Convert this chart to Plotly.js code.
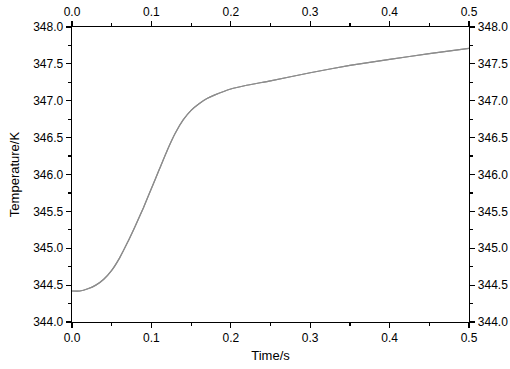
<!DOCTYPE html>
<html>
<head>
<meta charset="utf-8">
<script src="https://cdn.plot.ly/plotly-3.0.1.min.js"></script>
<style>
  html, body { margin: 0; padding: 0; background: #fff; }
  #tempChart { width: 510px; height: 369px; }
</style>
</head>
<body>
<div id="tempChart"></div>
<script>
// time (s) and temperature (K)
const timeValues = [0, 0.01, 0.02, 0.03, 0.04, 0.05, 0.06, 0.07, 0.08, 0.09, 0.10, 0.11, 0.12, 0.13, 0.14, 0.15, 0.16, 0.17, 0.18, 0.20, 0.22, 0.25, 0.30, 0.35, 0.40, 0.45, 0.50];
const tempValues = [344.42, 344.42, 344.45, 344.50, 344.58, 344.70, 344.87, 345.08, 345.31, 345.55, 345.81, 346.07, 346.33, 346.56, 346.74, 346.87, 346.96, 347.03, 347.08, 347.16, 347.21, 347.27, 347.38, 347.48, 347.56, 347.64, 347.71];

const xRange = [0, 0.5];
const yRange = [344, 348];

function drawTemperature() {
    var lineStyle = { color: '#8c8c8c', width: 1.2, shape: 'spline', smoothing: 0.5 };

    var trace1 = {
        x: timeValues,
        y: tempValues,
        type: 'scatter',
        mode: 'lines',
        line: lineStyle,
        hoverinfo: 'none'
    };

    // same curve on the mirrored axes so the top and right axes get drawn
    var trace2 = {
        x: timeValues,
        y: tempValues,
        xaxis: 'x2',
        yaxis: 'y2',
        type: 'scatter',
        mode: 'lines',
        line: lineStyle,
        hoverinfo: 'none'
    };

    var tickFont = { family: 'Liberation Sans, Arial, sans-serif', size: 12, color: '#000' };

    var commonAxis = {
        showgrid: false,
        zeroline: false,
        showline: true,
        linecolor: '#000',
        linewidth: 1.4,
        ticks: 'outside',
        ticklen: 5,
        tickwidth: 1.2,
        tickcolor: '#000',
        tickfont: tickFont,
        tickformat: '.1f',
        fixedrange: true
    };

    var layout = {
        width: 510,
        height: 369,
        margin: { l: 72, r: 41, t: 27, b: 47 },
        showlegend: false,
        paper_bgcolor: '#fff',
        plot_bgcolor: '#fff',
        font: { family: 'Liberation Sans, Arial, sans-serif', size: 12, color: '#000' },
        xaxis: Object.assign({}, commonAxis, {
            range: xRange,
            dtick: 0.1,
            tick0: 0,
            ticklabelstandoff: -1,
            minor: { dtick: 0.05, ticks: 'outside', ticklen: 3, tickwidth: 1.2, tickcolor: '#000' },
            title: { text: 'Time/s', font: { size: 13 }, standoff: 7 }
        }),
        yaxis: Object.assign({}, commonAxis, {
            range: yRange,
            dtick: 0.5,
            tick0: 344,
            minor: { dtick: 0.25, ticks: 'outside', ticklen: 3, tickwidth: 1.2, tickcolor: '#000' },
            title: { text: 'Temperature/K', font: { size: 13 }, standoff: 10 }
        }),
        xaxis2: Object.assign({}, commonAxis, {
            range: xRange,
            dtick: 0.1,
            tick0: 0,
            side: 'top',
            overlaying: 'x',
            minor: { dtick: 0.05, ticks: 'outside', ticklen: 3, tickwidth: 1.2, tickcolor: '#000' }
        }),
        yaxis2: Object.assign({}, commonAxis, {
            range: yRange,
            dtick: 0.5,
            tick0: 344,
            side: 'right',
            overlaying: 'y',
            minor: { dtick: 0.25, ticks: 'outside', ticklen: 3, tickwidth: 1.2, tickcolor: '#000' }
        })
    };

    Plotly.newPlot('tempChart', [trace1, trace2], layout, { staticPlot: true });
}

drawTemperature();
</script>
</body>
</html>
